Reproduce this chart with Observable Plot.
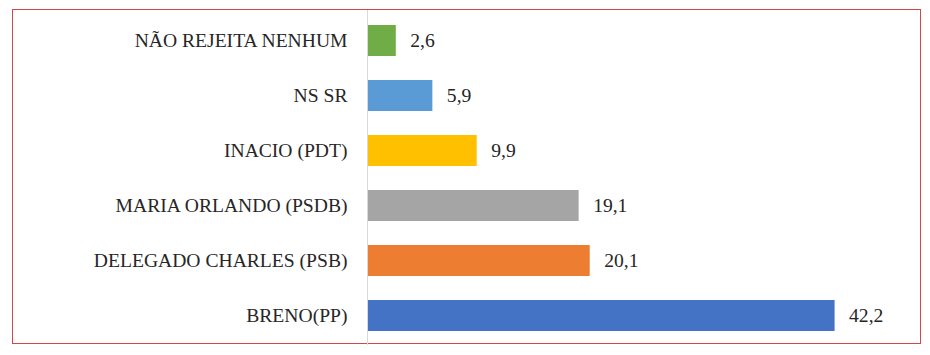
<!DOCTYPE html>
<html>
<head>
<meta charset="utf-8">
<script src="https://cdn.jsdelivr.net/npm/d3@7"></script>
<script src="https://cdn.jsdelivr.net/npm/@observablehq/plot@0.6"></script>
<style>
  html, body { margin: 0; padding: 0; background: #fff; }
  #wrap { position: relative; width: 930px; height: 355px; }
  #border { position: absolute; left: 12px; top: 9px; width: 907px; height: 333px; border: 1.5px solid #d0474c; pointer-events: none; }
  #wrap svg text { font-family: "Liberation Serif", "Times New Roman", serif !important; }
</style>
</head>
<body>
<div id="wrap"><div id="border"></div></div>
<script>
const categories = ["NÃO REJEITA NENHUM", "NS SR", "INACIO (PDT)", "MARIA ORLANDO (PSDB)", "DELEGADO CHARLES (PSB)", "BRENO(PP)"];
const values = [2.6, 5.9, 9.9, 19.1, 20.1, 42.2];
const colors = ["#70AD47", "#5B9BD5", "#FFC000", "#A5A5A5", "#ED7D31", "#4472C4"];

const data = categories.map((c, i) => ({name: c, value: values[i], color: colors[i]}));
const fmt = v => v.toFixed(1).replace(".", ",");

const chart = Plot.plot({
  width: 930,
  height: 355,
  marginLeft: 367,
  marginRight: 9,
  marginTop: 10,
  marginBottom: 10,
  style: {fontSize: "19.6px", color: "#262626", background: "transparent"},
  x: {domain: [0, 50], axis: null},
  y: {domain: categories, paddingInner: 0.44, paddingOuter: 0.22, label: null, tickSize: 0, tickPadding: 20},
  marks: [
    Plot.barX(data, {y: "name", x: "value", fill: "color"}),
    Plot.ruleX([0], {stroke: "#d9d9d9", strokeWidth: 1}),
    Plot.text(data, {y: "name", x: "value", text: d => fmt(d.value), textAnchor: "start", dx: 14, fill: "#262626", fontSize: 19.6})
  ]
});
chart.style.position = "absolute";
chart.style.left = "0";
chart.style.top = "0";
document.getElementById("wrap").appendChild(chart);
</script>
</body>
</html>
